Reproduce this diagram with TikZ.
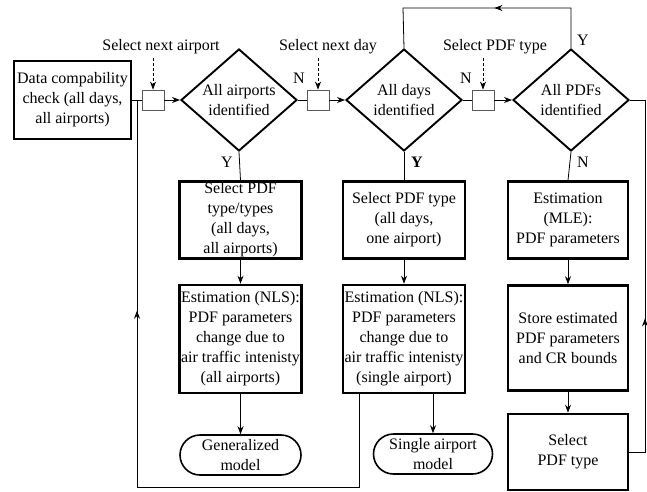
\documentclass[tikz,border=0pt]{standalone}
\usepackage{fontspec}
\setmainfont{Liberation Serif}
\usetikzlibrary{shapes.geometric,shapes.misc,arrows.meta,decorations.markings,calc}
\tikzset{>={Stealth[length=8pt,width=6pt]}}
\tikzset{
  block/.style={draw, line width=2.6pt, align=center, inner sep=0pt, minimum width=122pt},
  decision/.style={draw, diamond, line width=1.9pt, align=center, inner sep=0pt,
    shape aspect=1.15, minimum width=116pt, minimum height=102pt},
  terminal/.style={draw, rounded rectangle, line width=1.6pt, align=center, inner sep=0pt,
    minimum width=121pt, minimum height=40pt},
  selbox/.style={draw=black!65, line width=0.8pt, minimum width=22pt, minimum height=20pt, inner sep=0pt},
  line/.style={line width=0.8pt},
  flow/.style={line width=0.8pt, ->},
  hint/.style={line width=0.7pt, densely dashed, ->},
  midarrow/.style={postaction={decorate}, decoration={markings, mark=at position #1 with {\arrow{>}}}},
}

\begin{document}
\begin{tikzpicture}[x=1pt, y=-1pt, every node/.style={font=\fontsize{16}{20}\selectfont}]
    \useasboundingbox (0,0) rectangle (647,491);

    % top row
    \node[block, minimum width=117pt, minimum height=78pt] (data) at (72.5,100) {Data compability\\check (all days,\\all airports)};
    \node[selbox] (sel1) at (153,100) {};
    \node[decision] (dA) at (239,100) {All airports\\identified};
    \node[selbox] (sel2) at (318,100) {};
    \node[decision] (dD) at (404,100) {All days\\identified};
    \node[selbox] (sel3) at (483,100) {};
    \node[decision] (dP) at (571,100) {All PDFs\\identified};

    \node (tA) at (161,47) {Select next airport};
    \node (tD) at (328,47) {Select next day};
    \node (tP) at (495,47) {Select PDF type};
    \coordinate (hA) at (153,58);
    \coordinate (hD) at (318,58);
    \coordinate (hP) at (483,58);

    % columns
    \node[block, minimum height=77pt] (typesA) at (240.5,220) {Select PDF\\type/types\\(all days,\\all airports)};
    \node[block, minimum height=108pt] (estA) at (240.5,339) {Estimation (NLS):\\PDF parameters\\change due to\\air traffic intenisty\\(all airports)};
    \node[terminal] (genA) at (240.5,455) {Generalized\\model};

    \node[block, minimum height=77pt] (typeD) at (404,220) {Select PDF type\\(all days,\\one airport)};
    \node[block, minimum height=108pt] (estD) at (404,339) {Estimation (NLS):\\PDF parameters\\change due to\\air traffic intenisty\\(single airport)};
    \node[terminal, minimum width=119pt] (single) at (433,454) {Single airport\\model};

    \node[block, minimum width=120pt, minimum height=77pt] (mle) at (568,220) {Estimation\\(MLE):\\PDF parameters};
    \node[block, minimum width=120pt, minimum height=105pt] (store) at (568,338) {Store estimated\\PDF parameters\\and CR bounds};
    \node[block, minimum width=120pt, minimum height=76pt] (pick) at (568,452) {Select\\PDF type};

    % labels
    \node (nA) at (299,78) {N};
    \node (nD) at (466,78) {N};
    \node (yA) at (227,162) {Y};
    \node (yD) at (417,162) {\textbf{Y}};
    \node (yP) at (583,40) {Y};
    \node (nP) at (583,162) {N};

    % connectors
    \draw[hint] (hA) -- (sel1.north);
    \draw[hint] (hD) -- (sel2.north);
    \draw[hint] (hP) -- (sel3.north);
    \draw[line] (data.east) -- (sel1.west);
    \draw[flow] (sel1.east) -- (dA.west);
    \draw[line] (dA.east) -- (sel2.west);
    \draw[flow] (sel2.east) -- (dD.west);
    \draw[line] (dD.east) -- (sel3.west);
    \draw[flow] (sel3.east) -- (dP.west);

    \draw[line] (dA.south) -- (typesA.north);
    \draw[flow] (typesA.south) -- (estA.north);
    \draw[flow] (estA.south) -- (genA.north);
    \draw[line] (dD.south) -- (typeD.north);
    \draw[flow] (typeD.south) -- (estD.north);
    \draw[flow] (single.north |- estD.south) -- (single.north);
    \draw[line] (dP.south) -- (mle.north);
    \draw[flow] (mle.south) -- (store.north);
    \draw[flow] (store.south) -- (pick.north);

    % loops
    \draw[line, midarrow=0.47] (dP.north) -- (571,8) -- (403,8) -- (dD.north);
    \draw[line, midarrow=0.39] (pick.east) -- (645,452) -- (645,100) -- (dP.east);
    \draw[line, midarrow=0.70] ([xshift=18pt]estD.south west) |- (137,487) -- (137,100);
\end{tikzpicture}
\end{document}
